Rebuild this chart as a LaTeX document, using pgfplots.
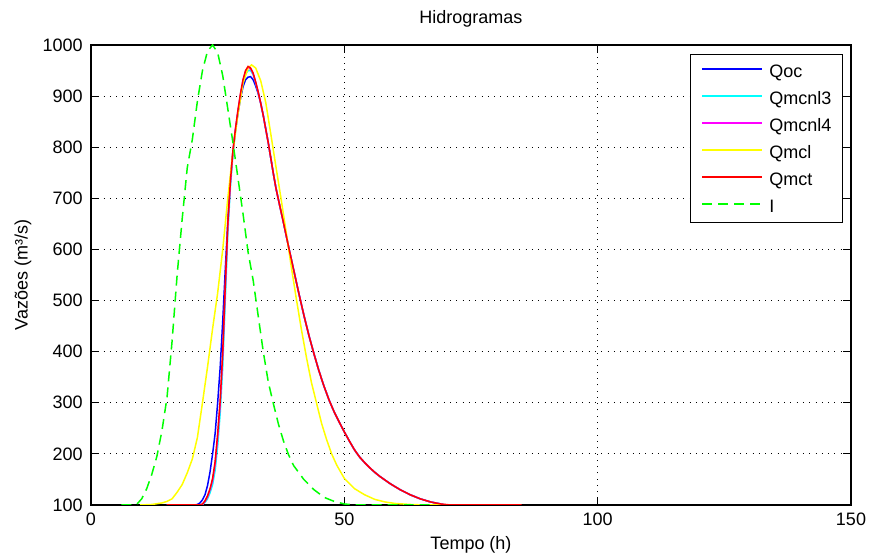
\documentclass[border=0pt]{standalone}
\usepackage{fontspec}
\setmainfont{Liberation Sans}
\usepackage{pgfplots}
\pgfplotsset{compat=1.18}
\definecolor{mblue}{rgb}{0,0,1}
\definecolor{mcyan}{rgb}{0,1,1}
\definecolor{mmag}{rgb}{1,0,1}
\definecolor{myel}{rgb}{1,1,0}
\definecolor{mred}{rgb}{1,0,0}
\definecolor{mgreen}{rgb}{0,1,0}
\begin{document}
\begin{tikzpicture}[font=\fontsize{9}{11}\selectfont]
\begin{axis}[
  scale only axis,
  width=380pt, height=230pt,
  xmin=0, xmax=150, ymin=100, ymax=1000,
  xtick={0,50,100,150},
  ytick={100,200,300,400,500,600,700,800,900,1000},
  /pgf/number format/assume math mode=true,
  /pgf/number format/1000 sep={},
  tick align=inside, tick pos=both,
  major tick length=4pt,
  every tick/.style={black, line width=0.5pt},
  axis line style={black, line width=0.6pt},
  grid=major,
  major grid style={black, line width=0.5pt, dash pattern=on 0.5pt off 2.65pt},
  xticklabel style={anchor=north, inner sep=0pt, yshift=-4pt},
  yticklabel style={anchor=east, inner sep=0pt, xshift=-4pt},
  title={Hidrogramas},
  title style={anchor=base, yshift=4.5pt, inner sep=0pt},
  xlabel={Tempo (h)},
  xlabel style={at={(0.5,0)}, anchor=base, yshift=-22.5pt, inner sep=0pt},
  ylabel={Vazões (m³/s)},
  ylabel style={at={(0,0.5)}, anchor=center, yshift=34pt, inner sep=0pt},
  legend cell align=left,
  legend style={at={(0.9895,0.9804)}, anchor=north east, draw=black, line width=0.6pt,
    inner xsep=5.5pt, inner ysep=5pt, row sep=7.0pt,
    nodes={inner sep=0pt, text height=6.5pt, text depth=0pt},
    /tikz/every odd column/.append style={column sep=3pt},
    font=\fontsize{9}{11}\selectfont},
  legend image code/.code={\draw[#1, line width=1pt] (0pt,1pt) -- (30pt,1pt);},
  every axis plot/.append style={line width=0.75pt},
]
% Qoc
\addplot[mblue] coordinates {
(15,100)(20.5,100)(21,101)(21.5,104)(22,110)(22.5,120)(23,138)(23.5,165)(24,200)(24.5,240)(25,300)(25.5,370)(26,460)(26.5,560)(27,655)(27.5,735)(28,790)(28.5,832)(29,866)(29.5,895)(30,918)(30.5,932)(31,937)(31.5,938)(32,932)(32.5,920)(33,905)
(33.5,886)(34,862)(34.5,835)(35,808)(35.5,778)(36,748)(36.5,720)(37,697)(38,652)(39,605)(40,560)(41,515)(42,472)(43,432)(44,396)(45,362)(46,332)(47,305)(48,282)(49,262)(50,243)(51,225)(52,208)(53,194)(54,183)(55,173)(56,164)(57,156)(58,149)(59,142)(60,136)(61,130)(62,125)(63,120)(64,116)(65,112)(66,109)(67,106)(68,104)(69,102)(69.5,100)};
\addlegendentry{Qoc}
% Qmcnl3
\addplot[mcyan] coordinates {
(15,100)(21.5,100)(22,101)(22.5,105)(23,112)(23.5,124)(24,140)(24.5,168)(25,215)(25.5,280)(26,370)(26.5,500)(27,630)(27.5,720)(28,785)(28.5,830)(29,868)(29.5,900)(30,926)(30.5,943)(31,950)(31.5,950)(32,942)(32.5,926)(33,907)
(33.5,886)(34,862)(34.5,835)(35,808)(35.5,778)(36,748)(36.5,720)(37,697)(38,652)(39,605)(40,560)(41,515)(42,472)(43,432)(44,396)(45,362)(46,332)(47,305)(48,282)(49,262)(50,243)(51,225)(52,208)(53,194)(54,183)(55,173)(56,164)(57,156)(58,149)(59,142)(60,136)(61,130)(62,125)(63,120)(64,116)(65,112)(66,109)(67,106)(68,104)(69,102)(70,100)};
\addlegendentry{Qmcnl3}
% Qmcnl4
\addplot[mmag] coordinates {
(15,100)(21.5,100)(22,101)(22.5,107)(23,116)(23.5,130)(24,148)(24.5,180)(25,232)(25.5,298)(26,392)(26.5,522)(27,645)(27.5,728)(28,790)(28.5,834)(29,871)(29.5,903)(30,930)(30.5,948)(31,955)(31.5,953)(32,944)(32.5,927)(33,908)
(33.5,886)(34,862)(34.5,835)(35,808)(35.5,778)(36,748)(36.5,720)(37,697)(38,652)(39,605)(40,560)(41,515)(42,472)(43,432)(44,396)(45,362)(46,332)(47,305)(48,282)(49,262)(50,243)(51,225)(52,208)(53,194)(54,183)(55,173)(56,164)(57,156)(58,149)(59,142)(60,136)(61,130)(62,125)(63,120)(64,116)(65,112)(66,109)(67,106)(68,104)(69,102)(70,100)};
\addlegendentry{Qmcnl4}
% Qmcl
\addplot[myel] coordinates {
(9.7,100)(12,101)(14,104)(15,107)(16,112)(17,125)(18,140)(19,163)(20,190)(21,232)(22,300)(23,370)(24,445)(25,515)(26,600)(27,700)(28,790)(29,865)(30,925)(31,955)(31.7,961)(32.5,955)(33.5,930)(34.5,887)(35.5,825)(36.5,762)(37.5,700)(38.5,635)(39.5,568)(40.5,505)(41.5,445)(42.5,390)(43.5,340)(44.5,300)(45.5,260)(46.5,228)(47.5,200)(48.5,178)(50,152)(52,132)(54,120)(56,111)(58,106)(60,103)(63,101)(66,100)(69,100)};
\addlegendentry{Qmcl}
% Qmct
\addplot[mred] coordinates {
(15,100)(21.5,100)(22,102)(22.5,108)(23,118)(23.5,132)(24,152)(24.5,185)(25,240)(25.5,305)(26,400)(26.5,530)(27,650)(27.5,732)(28,792)(28.5,835)(29,872)(29.5,905)(30,932)(30.5,950)(31,958)(31.5,955)(32,945)(32.5,928)(33,908)
(33.5,886)(34,862)(34.5,835)(35,808)(35.5,778)(36,748)(36.5,720)(37,697)(38,652)(39,605)(40,560)(41,515)(42,472)(43,432)(44,396)(45,362)(46,332)(47,305)(48,282)(49,262)(50,243)(51,225)(52,208)(53,194)(54,183)(55,173)(56,164)(57,156)(58,149)(59,142)(60,136)(61,130)(62,125)(63,120)(64,116)(65,112)(66,109)(67,106)(68,104)(69,102)(70,101)(71,100)(85,100)};
\addlegendentry{Qmct}
% I
\addplot[mgreen, dash pattern=on 5pt off 3pt] coordinates {
(6,100)(8,100)(9,101)(10,112)(11,132)(12,160)(13,195)(14,245)(15,310)(16,420)(17,550)(18,660)(19,760)(20,815)(21,890)(22,950)(23,988)(24,1000)(25,985)(26,940)(27,875)(28,810)(29,740)(30,670)(31,595)(32,540)(33,470)(34,400)(35,340)(36,298)(37,258)(38,225)(39,198)(40,177)(42,150)(44,130)(46,115)(48,107)(50,102)(52,100)(67,100)};
\addlegendentry{I}
\end{axis}
\pgfresetboundingbox
\path ([xshift=-45.5pt,yshift=-25pt]current axis.south west) rectangle ([xshift=9pt,yshift=22.5pt]current axis.north east);
\end{tikzpicture}
\end{document}
